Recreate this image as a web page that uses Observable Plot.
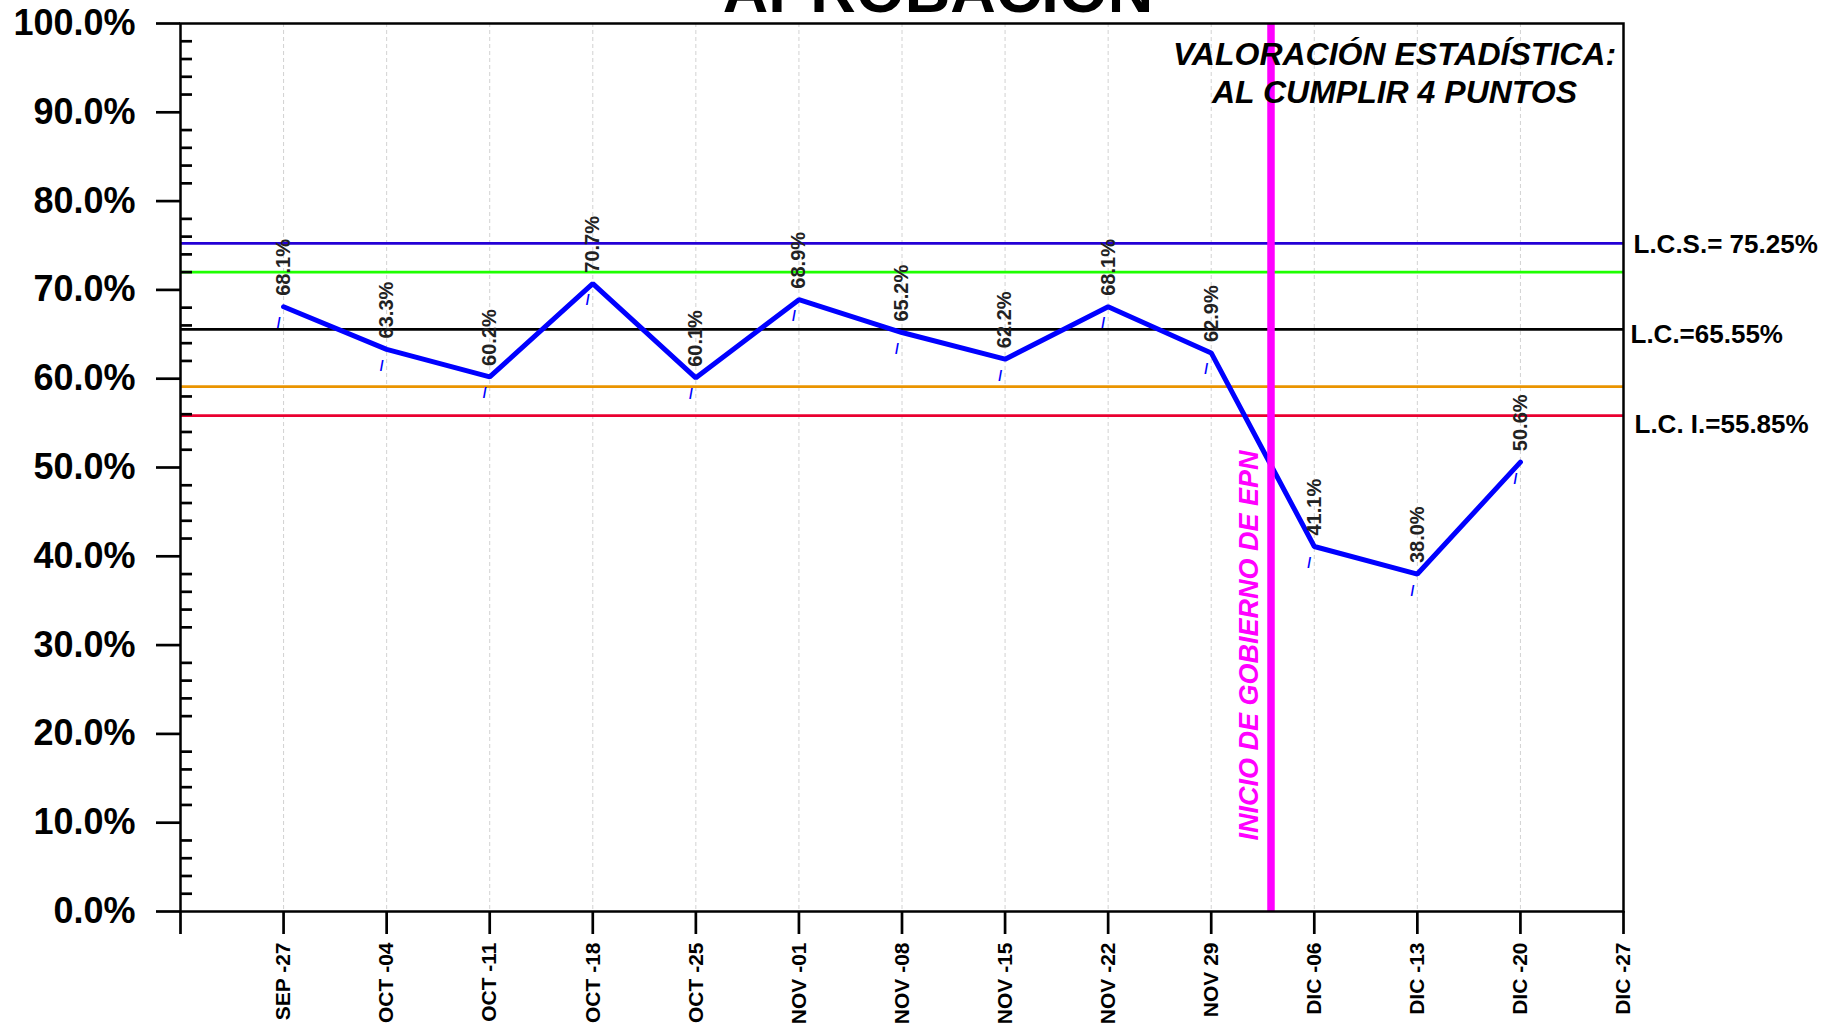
<!DOCTYPE html>
<html><head><meta charset="utf-8">
<script src="https://cdn.jsdelivr.net/npm/d3@7"></script>
<script src="https://cdn.jsdelivr.net/npm/@observablehq/plot@0.6"></script>
<style>
html,body{margin:0;padding:0;background:#fff;overflow:hidden;width:1828px;height:1026px;}
#wrap{position:relative;width:1828px;height:1026px;overflow:hidden;}
#title{position:absolute;top:-41px;left:24px;width:1828px;text-align:center;font:bold 63px "Liberation Sans",Arial,sans-serif;line-height:1;color:#000;z-index:2;white-space:nowrap;}
#chart{position:absolute;top:0;left:0;z-index:1;}
</style></head>
<body><div id="wrap"><div id="title">APROBACIÓN</div><div id="chart"></div></div>
<script>
// Week labels (x axis)
const weeks = ["SEP -27","OCT -04","OCT -11","OCT -18","OCT -25","NOV -01","NOV -08","NOV -15","NOV -22","NOV 29","DIC -06","DIC -13","DIC -20","DIC -27"];
// Approval values (%) for the first 13 weeks
const approval = [68.1, 63.3, 60.2, 70.7, 60.1, 68.9, 65.2, 62.2, 68.1, 62.9, 41.1, 38.0, 50.6];
// Control limits
const limitValues = [75.25, 72.0, 65.55, 59.1, 55.85];
const limitNames = ["L.C.S.= 75.25%", "", "L.C.=65.55%", "", "L.C. I.=55.85%"];
const limitColors = ["#2400d6", "#1eff00", "#000000", "#ea9400", "#ea0030"];
// Y tick values
const yMajor = [0,10,20,30,40,50,60,70,80,90,100];
const yMinor = d3.range(0, 101, 2).filter(v => v % 10 !== 0);
// Event marker position (between NOV 29 and DIC -06)
const epnStart = 10.58;
const epnText = "INICIO DE GOBIERNO DE EPN";
const noteLines = ["VALORACIÓN ESTADÍSTICA:", "AL CUMPLIR 4 PUNTOS"];

const data = approval.map((v, i) => ({x: i + 1, y: v, label: v.toFixed(1) + "%"}));
const limits = limitValues.map((v, i) => ({y: v, name: limitNames[i], color: limitColors[i]}));
const labelOffsets = {"L.C.S.= 75.25%": [10, 1], "L.C.=65.55%": [7, 5], "L.C. I.=55.85%": [11, 9]};

const font = "Liberation Sans, Arial, sans-serif";

const chart = Plot.plot({
  width: 1828, height: 1026,
  marginLeft: 180, marginRight: 205, marginTop: 23, marginBottom: 115,
  style: {background: "transparent", fontFamily: font, color: "#000", overflow: "visible"},
  x: {domain: [0, 14]},
  y: {domain: [0, 100]},
  marks: [
    Plot.ruleX(d3.range(1, 14), {stroke: "#d2d2d2", strokeWidth: 1, strokeDasharray: "4,3"}),
    ...limits.map(l => Plot.ruleY([l.y], {stroke: l.color, strokeWidth: 2.7})),
    Plot.line(data, {x: "x", y: "y", stroke: "#0000ff", strokeWidth: 5, strokeLinejoin: "miter"}),
    Plot.ruleX([epnStart], {stroke: "#ff00ff", strokeWidth: 7.5}),
    Plot.text(data, {x: "x", y: "y", text: "label", rotate: -90, textAnchor: "start", dy: -11, fontSize: 20, fontWeight: "bold", fill: "#222"}),
    Plot.text(data, {x: "x", y: "y", text: () => "/", fill: "#0000ff", fontSize: 14, fontWeight: "bold", dx: -5, dy: 17}),
    Plot.text([epnText], {x: () => epnStart, frameAnchor: "bottom", text: d => d, rotate: -90, textAnchor: "start", dx: -13, dy: -71, fontSize: 27, fontWeight: "bold", fontStyle: "italic", fill: "#ff00ff"}),
    Plot.text([noteLines.join("\n")], {frameAnchor: "top-right", text: d => d, textAnchor: "middle", lineAnchor: "top", dx: -229, dy: 14, fontSize: 32, fontWeight: "bold", fontStyle: "italic", lineHeight: 1.19, fill: "#000"}),
    ...limits.filter(l => l.name).map(l => Plot.text([l], {y: "y", text: "name", frameAnchor: "right", textAnchor: "start", dx: labelOffsets[l.name][0], dy: labelOffsets[l.name][1], fontSize: 26, fontWeight: "bold", fill: "#000"})),
    Plot.axisY(yMajor, {tickSize: 24, tickPadding: 21, tickFormat: d => d.toFixed(1) + "%", fontSize: 36, fontWeight: "bold", strokeWidth: 2.7, label: null}),
    Plot.axisY(yMinor, {tickSize: -12, tickFormat: () => "", strokeWidth: 2.7, label: null}),
    Plot.axisX(d3.range(0, 15), {tickSize: 23, tickPadding: 8, tickRotate: -90, tickFormat: i => i === 0 ? "" : weeks[i - 1], fontSize: 21, fontWeight: "bold", strokeWidth: 2.7, label: null}),
    Plot.frame({stroke: "#000", strokeWidth: 2.5})
  ]
});
document.getElementById("chart").appendChild(chart);
</script>
</body></html>
